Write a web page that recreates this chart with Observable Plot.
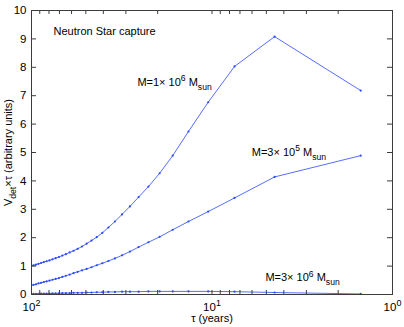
<!DOCTYPE html>
<html>
<head>
<meta charset="utf-8">
<script src="https://cdn.jsdelivr.net/npm/d3@7"></script>
<script src="https://cdn.jsdelivr.net/npm/@observablehq/plot@0.6"></script>
<style>
  body { margin: 0; background: #fff; }
  #chart svg { font-family: "Liberation Sans", Arial, Helvetica, sans-serif; }
</style>
</head>
<body>
<div id="chart"></div>
<script>
// ---- data ----
const tau = [100.5, 97.5, 94.5, 91.5, 88.5, 85.5, 82.5, 79.5, 76.5, 73.5, 70.5, 67.5, 64.5, 61.5, 58.5, 55.5, 52.5, 49.5, 46.5, 43.5, 40.5, 37.5, 34.5, 31.5, 28.5, 25.5, 22.5, 19.5, 16.5, 13.5, 10.5, 7.5, 4.5, 1.5];
const vM1e6 = [1.00, 1.03, 1.05, 1.08, 1.11, 1.14, 1.17, 1.20, 1.24, 1.28, 1.32, 1.37, 1.42, 1.48, 1.54, 1.61, 1.69, 1.79, 1.90, 2.02, 2.17, 2.36, 2.57, 2.82, 3.10, 3.43, 3.80, 4.27, 4.89, 5.74, 6.77, 8.03, 9.08, 7.18];
const vM3e5 = [0.32, 0.34, 0.36, 0.39, 0.41, 0.44, 0.46, 0.49, 0.52, 0.55, 0.58, 0.62, 0.66, 0.70, 0.75, 0.80, 0.85, 0.90, 0.96, 1.03, 1.10, 1.18, 1.27, 1.38, 1.51, 1.67, 1.84, 2.03, 2.28, 2.57, 2.92, 3.40, 4.14, 4.89];
const vM3e6 = [0.02, 0.02, 0.02, 0.02, 0.03, 0.03, 0.03, 0.03, 0.04, 0.04, 0.04, 0.05, 0.05, 0.05, 0.06, 0.06, 0.06, 0.07, 0.07, 0.08, 0.08, 0.09, 0.09, 0.10, 0.10, 0.10, 0.11, 0.11, 0.11, 0.11, 0.11, 0.10, 0.07, 0.02];

const seriesNames = ["M=1e6", "M=3e5", "M=3e6"];
const yTicks = [0, 1, 2, 3, 4, 5, 6, 7, 8, 9, 10];
const xMajor = [100, 10, 1];
const xMajorLabels = ["10^{2}", "10^{1}", "10^{0}"];
const xMinor = [90, 80, 70, 60, 50, 40, 30, 20, 9, 8, 7, 6, 5, 4, 3, 2];

const annLabels = ["Neutron Star capture", "M=1× 10^{6} M_{sun}", "M=3× 10^{5} M_{sun}", "M=3× 10^{6} M_{sun}"];
const annTau = [75.5, 25.9, 6.02, 5.06];
const annV = [9.27, 7.47, 5.01, 0.59];

const xLabel = "τ (years)";
const yLabel = "V_{det}×τ (arbitrary units)";

// ---- tables built from the arrays ----
const rows = [];
[vM1e6, vM3e5, vM3e6].forEach((vals, k) => {
  tau.forEach((t, i) => rows.push({tau: t, v: vals[i], s: seriesNames[k]}));
});
const ann = annLabels.map((label, i) => ({label, tau: annTau[i], v: annV[i]}));

// ---- layout / style ----
const W = 404, H = 327, mL = 31, mR = 12, mT = 10, mB = 33;
const pw = W - mL - mR, ph = H - mT - mB;
const blue = "#2a48ff";
const axisColor = "#3c3c3c";

const plot = Plot.plot({
  width: W, height: H,
  marginLeft: mL, marginRight: mR, marginTop: mT, marginBottom: mB,
  style: {fontFamily: "Liberation Sans, Arial, Helvetica, sans-serif", fontSize: "11px", background: "white", color: "black"},
  x: {type: "log", domain: [100, 1], axis: null},
  y: {domain: [0, 10], axis: null},
  marks: [
    Plot.line(rows, {x: "tau", y: "v", z: "s", stroke: blue, strokeWidth: 0.8, clip: true}),
    Plot.dot(rows, {x: "tau", y: "v", r: 1.1, fill: blue, stroke: null, clip: true}),
    // inward ticks
    Plot.tickY(yTicks, {y: d => d, insetRight: pw - 5, stroke: axisColor}),
    Plot.tickY(yTicks, {y: d => d, insetLeft: pw - 5, stroke: axisColor}),
    Plot.tickX(xMajor.concat(xMinor), {x: d => d, insetTop: ph - 4, stroke: axisColor}),
    Plot.tickX(xMajor.concat(xMinor), {x: d => d, insetBottom: ph - 4, stroke: axisColor}),
    Plot.frame({stroke: axisColor}),
    // tick labels
    Plot.text(yTicks, {y: d => d, text: d => String(d), frameAnchor: "left", dx: -5, textAnchor: "end", fontSize: 11.5, fill: "black"}),
    Plot.text(xMajor, {x: d => d, text: (d, i) => xMajorLabels[i], frameAnchor: "bottom", dy: 16, fontSize: 11.5, fill: "black"}),
    // axis labels
    Plot.text([xLabel], {text: d => d, frameAnchor: "bottom", dy: 27.5, fontSize: 11, fill: "black"}),
    Plot.text([yLabel], {text: d => d, frameAnchor: "left", dx: -23, rotate: -90, fontSize: 11, fill: "black"}),
    // annotations
    Plot.text(ann, {x: "tau", y: "v", text: "label", textAnchor: "start", fontSize: 11, fill: "black"})
  ]
});

document.getElementById("chart").appendChild(plot);

// rich text: ^{...} superscript, _{...} subscript
const SVGNS = "http://www.w3.org/2000/svg";
d3.select(plot).selectAll("text").each(function () {
  const s = this.textContent;
  if (!/[\^_]\{/.test(s)) return;
  const parts = [];
  const re = /([\^_])\{([^}]*)\}/g;
  let last = 0, m;
  while ((m = re.exec(s))) {
    if (m.index > last) parts.push({t: s.slice(last, m.index), k: ""});
    parts.push({t: m[2], k: m[1]});
    last = re.lastIndex;
  }
  if (last < s.length) parts.push({t: s.slice(last), k: ""});
  const fs = parseFloat(getComputedStyle(this).fontSize) || 11;
  this.textContent = "";
  let shift = 0;
  for (const p of parts) {
    const target = p.k === "^" ? -0.42 * fs : p.k === "_" ? 0.38 * fs : 0;
    const ts = document.createElementNS(SVGNS, "tspan");
    if (p.k) ts.setAttribute("font-size", (fs * 0.78).toFixed(2));
    const dy = target - shift;
    if (dy !== 0) ts.setAttribute("dy", dy.toFixed(2));
    shift = target;
    ts.textContent = p.t;
    this.appendChild(ts);
  }
  // centre the rotated axis label explicitly on its anchor
  if (this.getAttribute("transform") && /rotate/.test(this.getAttribute("transform"))) {
    const len = this.getComputedTextLength();
    this.setAttribute("text-anchor", "start");
    this.setAttribute("x", (-len / 2).toFixed(2));
  }
});
</script>
</body>
</html>
